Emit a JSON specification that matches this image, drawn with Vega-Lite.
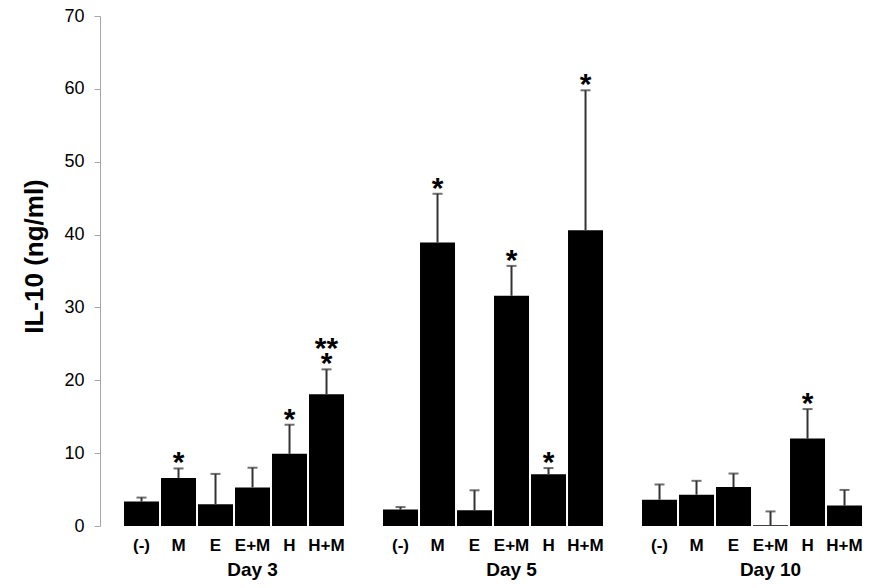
{
  "$schema": "https://vega.github.io/schema/vega-lite/v6.json",
  "width": 785,
  "height": 510,
  "autosize": {"type": "none"},
  "padding": {"left": 100, "top": 16, "right": 0, "bottom": 62},
  "background": "white",
  "config": {"view": {"stroke": null}, "font": "Liberation Sans"},
  "data": {
    "values": [
      {"bar": "Day 3|(-)", "value": 3.35, "upper": 3.9, "sig": "", "sig2": ""},
      {"bar": "Day 3|M", "value": 6.6, "upper": 7.9, "sig": "*", "sig2": ""},
      {"bar": "Day 3|E", "value": 3.0, "upper": 7.15, "sig": "", "sig2": ""},
      {"bar": "Day 3|E+M", "value": 5.3, "upper": 8.0, "sig": "", "sig2": ""},
      {"bar": "Day 3|H", "value": 9.9, "upper": 13.9, "sig": "*", "sig2": ""},
      {"bar": "Day 3|H+M", "value": 18.1, "upper": 21.5, "sig": "*", "sig2": "**"},
      {"bar": "Day 5|(-)", "value": 2.25, "upper": 2.6, "sig": "", "sig2": ""},
      {"bar": "Day 5|M", "value": 38.9, "upper": 45.6, "sig": "*", "sig2": ""},
      {"bar": "Day 5|E", "value": 2.15, "upper": 4.9, "sig": "", "sig2": ""},
      {"bar": "Day 5|E+M", "value": 31.6, "upper": 35.7, "sig": "*", "sig2": ""},
      {"bar": "Day 5|H", "value": 7.1, "upper": 7.95, "sig": "*", "sig2": ""},
      {"bar": "Day 5|H+M", "value": 40.6, "upper": 59.8, "sig": "*", "sig2": ""},
      {"bar": "Day 10|(-)", "value": 3.6, "upper": 5.7, "sig": "", "sig2": ""},
      {"bar": "Day 10|M", "value": 4.3, "upper": 6.2, "sig": "", "sig2": ""},
      {"bar": "Day 10|E", "value": 5.35, "upper": 7.2, "sig": "", "sig2": ""},
      {"bar": "Day 10|E+M", "value": 0.1, "upper": 2.0, "sig": "", "sig2": ""},
      {"bar": "Day 10|H", "value": 12.0, "upper": 16.05, "sig": "*", "sig2": ""},
      {"bar": "Day 10|H+M", "value": 2.8, "upper": 4.95, "sig": "", "sig2": ""}
    ]
  },
  "resolve": {"axis": {"x": "independent"}},
  "layer": [
    {
      "mark": {"type": "bar", "color": "#000000"},
      "encoding": {
        "x": {
          "field": "bar", "type": "nominal", "sort": null,
          "scale": {
            "domain": ["Day 3|(-)", "Day 3|M", "Day 3|E", "Day 3|E+M", "Day 3|H", "Day 3|H+M", "gap1",
                       "Day 5|(-)", "Day 5|M", "Day 5|E", "Day 5|E+M", "Day 5|H", "Day 5|H+M", "gap2",
                       "Day 10|(-)", "Day 10|M", "Day 10|E", "Day 10|E+M", "Day 10|H", "Day 10|H+M"],
            "paddingInner": 0.054, "paddingOuter": 0.635, "align": 0.511
          },
          "axis": {
            "orient": "bottom",
            "title": null, "domain": false, "ticks": false, "tickSize": 0,
            "labelAngle": 0, "labelPadding": 11, "labelFontSize": 17, "labelFontWeight": "bold",
            "labelColor": "#000000", "labelOverlap": false, "labelFlush": false, "labelDx": 1,
            "labelExpr": "indexof(datum.value,'|') > 0 ? split(datum.value,'|')[1] : ''"
          }
        },
        "y": {
          "field": "value", "type": "quantitative",
          "scale": {"domain": [0, 70], "nice": false, "zero": true},
          "axis": {
            "values": [0, 10, 20, 30, 40, 50, 60, 70], "grid": false,
            "domainColor": "#a6a6a6", "tickColor": "#a6a6a6", "tickSize": 6,
            "labelFontSize": 18, "labelColor": "#000000", "labelPadding": 10,
            "title": "IL-10 (ng/ml)", "titleFontSize": 26, "titleFontWeight": "bold", "titleColor": "#000000",
            "titleAngle": 270, "titleAlign": "center", "titleBaseline": "alphabetic",
            "titleX": -58, "titleY": 240
          }
        }
      }
    },
    {
      "mark": {"type": "rule", "color": "#333333", "strokeWidth": 2},
      "encoding": {
        "x": {"field": "bar", "type": "nominal", "axis": null},
        "y": {"field": "value", "type": "quantitative"},
        "y2": {"field": "upper"}
      }
    },
    {
      "mark": {"type": "tick", "color": "#333333", "size": 10, "thickness": 2},
      "encoding": {
        "x": {
          "field": "bar", "type": "nominal",
          "axis": {
            "orient": "bottom",
            "title": null, "domain": false, "ticks": false, "tickSize": 0,
            "values": ["Day 3|E+M", "Day 5|E+M", "Day 10|E+M"], "bandPosition": 0,
            "labelAngle": 0, "labelPadding": 34, "labelFontSize": 19, "labelFontWeight": "bold",
            "labelColor": "#000000", "labelOverlap": false, "labelFlush": false, "labelDx": 1,
            "labelExpr": "split(datum.value,'|')[0]"
          }
        },
        "y": {"field": "upper", "type": "quantitative"}
      }
    },
    {
      "transform": [{"filter": "datum.sig != ''"}],
      "mark": {"type": "text", "baseline": "bottom", "align": "center", "dy": 10, "fontSize": 30,
               "fontWeight": "bold", "color": "#000000"},
      "encoding": {
        "x": {"field": "bar", "type": "nominal", "axis": null},
        "y": {"field": "upper", "type": "quantitative"},
        "text": {"field": "sig"}
      }
    },
    {
      "transform": [{"filter": "datum.sig2 != ''"}],
      "mark": {"type": "text", "baseline": "bottom", "align": "center", "dy": -5, "fontSize": 30,
               "fontWeight": "bold", "color": "#000000"},
      "encoding": {
        "x": {"field": "bar", "type": "nominal", "axis": null},
        "y": {"field": "upper", "type": "quantitative"},
        "text": {"field": "sig2"}
      }
    }
  ]
}
